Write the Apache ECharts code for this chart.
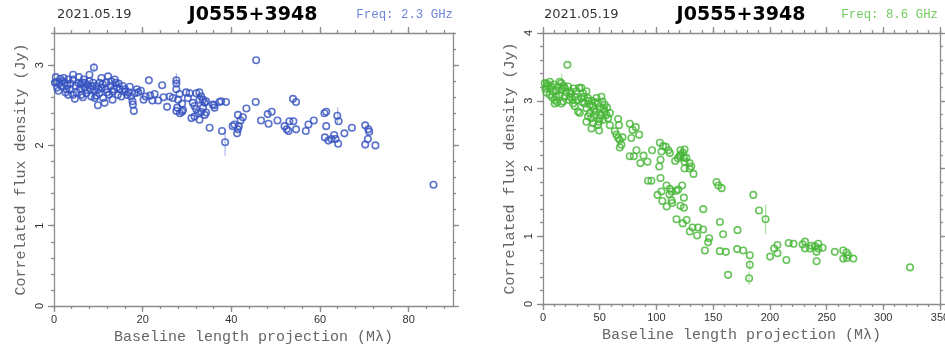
<!DOCTYPE html>
<html>
<head>
<meta charset="utf-8">
<script src="https://cdn.jsdelivr.net/npm/echarts@6/dist/echarts.min.js"></script>
<style>
  html, body { margin: 0; padding: 0; background: #fff; }
  #chart { width: 945px; height: 347px; }
</style>
</head>
<body>
<div id="chart"></div>
<script>
// Labels
const obsDate = '2021.05.19';
const sourceName = 'J0555+3948';
const band23Label = 'Freq: 2.3 GHz';
const band86Label = 'Freq: 8.6 GHz';
const xAxisTitle = 'Baseline length projection (M\u03bb)';
const yAxisTitle = 'Correlated flux density (Jy)';

// 2.3 GHz visibilities: [baseline projection (Mλ), correlated flux (Jy)]
const band23Points = [
  [0.4,2.85],[0.5,2.79],[0.7,2.72],[1.4,2.83],[1.7,2.74],[2.2,2.84],[2.4,2.78],[2.8,2.70],[3.2,2.63],[3.2,2.82],
  [3.7,2.77],[4.3,2.88],[4.3,2.82],[4.3,2.63],[4.7,2.58],[4.9,2.74],[5.4,2.78],[5.8,2.70],[6.2,2.63],[6.4,2.78],
  [6.7,2.82],[6.9,2.72],[7.3,2.65],[7.7,2.75],[8.0,2.88],[8.0,2.80],[8.2,2.70],[8.4,2.61],[8.8,2.78],[9.0,2.97],
  [9.2,2.68],[9.2,2.59],[9.6,2.74],[9.9,2.50],[10.2,2.65],[10.3,2.78],[10.7,2.84],[10.7,2.72],[11.1,2.59],[11.4,2.53],
  [11.7,2.70],[11.8,2.78],[12.2,2.86],[12.4,2.63],[12.7,2.74],[13.2,2.57],[13.3,2.67],[13.7,2.82],[13.9,2.78],[14.2,2.72],
  [14.4,2.63],[14.8,2.70],[15.2,2.61],[15.9,2.67],[16.5,2.63],[17.1,2.73],[17.4,2.61],[17.7,2.55],[17.8,2.51],[18.0,2.43],
  [18.2,2.65],[18.7,2.70],[0.2,2.78],[1.0,2.68],[1.9,2.80],[2.6,2.66],[3.5,2.70],[5.1,2.66],[5.6,2.85],[6.0,2.76],
  [7.0,2.78],[7.5,2.69],[8.6,2.74],[10.0,2.70],[11.0,2.76],[12.0,2.66],[12.9,2.80],[13.5,2.70],[14.6,2.77],[15.5,2.74],
  [16.0,2.70],[16.8,2.66],[9.5,2.62],[6.5,2.60],[3.0,2.75],[1.2,2.77],[19.0,2.66],[19.6,2.68],
  [20.2,2.57],[20.7,2.61],[21.4,2.81],[21.7,2.62],[22.2,2.56],[22.7,2.64],[23.5,2.56],[24.4,2.75],[24.7,2.60],[25.5,2.48],
  [26.1,2.61],[26.8,2.59],[27.6,2.81],[27.6,2.77],[27.6,2.70],[28.0,2.57],[27.8,2.47],[28.3,2.64],[28.9,2.52],[29.1,2.44],
  [27.6,2.43],[28.4,2.40],[28.9,2.42],[29.8,2.66],[30.2,2.59],
  [30.6,2.65],[32.1,2.65],[32.8,2.66],[33.2,2.61],[31.3,2.53],[31.7,2.49],[32.1,2.45],[32.5,2.40],[32.8,2.57],[33.6,2.57],
  [34.0,2.53],[34.3,2.55],[33.6,2.47],[33.2,2.42],[31.0,2.34],[31.7,2.36],[32.8,2.32],[34.0,2.38],[34.3,2.41],[36.2,2.47],
  [35.8,2.51],[37.3,2.54],[37.7,2.55],[38.8,2.54],[36.1,2.50],[35.1,2.22],[37.9,2.18],[38.6,2.04],
  [40.3,2.24],[40.7,2.26],[41.5,2.20],[41.7,2.24],[41.3,2.15],[41.5,2.38],[42.1,2.31],[42.6,2.35],[43.4,2.46],[45.6,3.06],
  [45.5,2.54],[46.7,2.31],[48.4,2.27],[48.2,2.39],[49.1,2.42],[50.4,2.31],[52.0,2.24],[52.5,2.20],[52.9,2.18],[53.1,2.30],
  [54.0,2.30],[54.6,2.20],[53.9,2.58],[54.6,2.54],[56.8,2.18],[57.4,2.26],[58.6,2.31],[61.0,2.40],[61.4,2.42],[61.4,2.24],
  [61.1,2.10],[61.9,2.06],[62.6,2.08],[63.2,2.13],[63.5,2.08],[64.1,2.02],[63.9,2.37],[64.2,2.30],[65.5,2.15],[67.2,2.22],
  [70.2,2.25],[70.9,2.20],[71.1,2.17],[70.8,2.08],[70.2,2.01],[72.5,2.00],[85.6,1.51]
];
// 2.3 GHz error bars: [baseline, low, high]
const band23Errors = [
  [9.0,2.91,3.03],[27.6,2.76,2.90],[38.6,1.87,2.17],[64.0,2.28,2.47]
];

// 8.6 GHz visibilities
const band86Points = [
  [1.5,3.26],[3.0,3.12],[4.0,3.22],[5.9,3.28],[7.4,3.21],[8.9,3.14],[5.9,3.09],[10.3,3.01],[11.8,3.06],[10.3,2.96],
  [13.2,3.21],[14.7,3.28],[16.2,3.26],[16.2,3.16],[14.7,3.09],[17.7,2.99],[16.2,2.96],[19.1,3.19],[19.1,3.06],[21.5,3.53],
  [22.1,3.21],[23.6,3.14],[23.0,3.01],[25.0,3.11],[26.5,2.96],[28.0,3.06],[29.4,3.14],[31.9,3.19],[33.8,3.19],[30.9,3.01],
  [33.8,3.04],[35.3,3.11],[38.3,3.14],[39.7,3.04],[36.8,2.96],[28.0,2.92],[30.9,2.84],[32.4,2.82],[38.3,2.89],[41.2,2.94],
  [44.1,2.92],[41.2,2.82],[39.7,2.77],[38.3,2.69],[42.7,2.74],[45.6,2.79],[47.1,3.04],[48.5,2.96],[50.0,2.89],[47.1,2.84],
  [51.5,3.06],[52.4,2.99],[54.4,2.94],[54.4,2.84],[51.5,2.79],[50.0,2.74],[49.5,2.69],[55.9,2.79],[57.4,2.74],[53.0,2.72],
  [44.1,2.67],[48.5,2.64],[58.9,2.64],[42.7,2.59],[49.5,2.56],[66.2,2.73],[67.0,2.64],[63.3,2.55],[64.7,2.50],[66.2,2.45],
  [70.1,2.46],[76.5,2.66],[78.9,2.57],[81.8,2.61],[84.8,2.50],[77.9,2.45],[69.1,2.35],[67.7,2.31],[67.7,2.42],
  [2.0,3.18],[3.5,3.25],[6.5,3.18],[9.5,3.24],[12.0,3.15],[18.0,3.22],[20.5,3.12],[24.0,3.06],[27.0,3.18],[34.5,2.98],
  [36.0,3.06],[43.0,3.00],[45.0,2.86],[46.0,2.98],[53.5,2.88],[56.5,2.90],[59.0,2.82],[40.0,3.00],[26.0,3.02],[12.5,2.98],
  [8.0,3.05],
  [76.5,2.18],[80.0,2.18],[82.4,2.27],[85.9,2.08],[88.6,2.19],[92.1,2.10],[96.2,2.27],[92.6,1.82],[95.6,1.82],[103.0,2.38],
  [104.5,2.25],[103.6,2.13],[105.9,2.33],[108.3,2.32],[110.5,2.27],[111.8,2.23],[102.5,2.03],[103.6,1.86],[108.9,1.75],[111.8,1.70],
  [113.3,1.66],[101.0,1.61],[105.2,1.52],[109.0,1.44],[113.3,1.53],[113.9,1.49],[111.5,1.62],[104.4,1.66],
  [116.5,2.11],[118.9,2.15],[120.4,2.18],[121.2,2.20],[123.3,2.23],[124.8,2.28],[121.2,2.27],[124.2,2.16],[126.3,2.16],[124.8,2.10],
  [129.2,2.08],[130.7,2.03],[124.8,2.00],[129.2,2.00],[132.7,1.92],
  [117.4,1.67],[119.2,1.69],[122.7,1.75],[124.2,1.57],[121.2,1.45],[124.2,1.42],
  [141.3,1.40],[153.0,1.80],[154.6,1.75],[157.5,1.71],[156.0,1.21],[185.4,1.61],[190.5,1.38],[196.2,1.25],
  [117.7,1.25],[123.2,1.19],[126.6,1.24],[129.4,1.07],[131.8,1.13],[135.9,1.01],[136.8,1.13],[141.2,1.10],[142.7,0.79],[145.6,0.91],
  [146.5,0.97],[158.8,1.03],[155.9,0.78],[161.2,0.77],[163.2,0.43],[171.2,0.81],[176.5,0.79],[171.5,1.09],[182.3,0.72],[182.3,0.58],
  [181.7,0.38],[200.2,0.70],[203.8,0.82],[206.7,0.87],[206.7,0.75],[214.6,0.65],[216.6,0.90],[220.9,0.89],[228.9,0.88],[231.0,0.92],
  [231.0,0.82],[235.4,0.82],[236.8,0.86],[239.8,0.85],[241.2,0.77],[242.7,0.82],[241.2,0.63],[242.7,0.89],[246.5,0.83],[257.2,0.77],
  [264.7,0.79],[264.7,0.67],[267.6,0.76],[269.1,0.72],[268.0,0.68],[273.6,0.67],[323.6,0.54]
];
const band86Errors = [
  [16.5,3.20,3.40],[196.2,1.03,1.47],[181.7,0.28,0.48],[182.3,0.50,0.66]
];

// Axis ranges and tick values
const band23XMax = 90, band23YMax = 3.4;
const band86XMax = 350, band86YMax = 4;
const band23XMajor = [0, 20, 40, 60, 80];
const band23YMajor = [0, 1, 2, 3];
const band86XMajor = [0, 50, 100, 150, 200, 250, 300, 350];
const band86YMajor = [0, 1, 2, 3, 4];

function tickSteps(max, step) {
  const out = [];
  for (let i = 0; i * step <= max + 1e-9; i++) out.push(Math.round(i * step * 100) / 100);
  return out;
}
const band23XMinor = tickSteps(band23XMax, 4);
const band23YMinor = tickSteps(band23YMax, 0.2);
const band86XMinor = tickSteps(band86XMax, 10);
const band86YMinor = tickSteps(band86YMax, 0.2);

const BLUE = '#3350bf';
const BLUE_LIGHT = '#6f86dc';
const GREEN = '#45b534';
const GREEN_LIGHT = '#72cc5f';
const FRAME = '#8c8c8c';

const lineStyle = { color: FRAME, width: 1.3 };
const tickLabel = { color: '#333', fontFamily: 'Liberation Sans', fontSize: 11 };
const titleFont = { fontFamily: 'Liberation Mono', fontSize: 15, color: '#666' };

// One side of the box frame: a main axis (line, long ticks, labels) and a
// companion axis carrying the short minor ticks.
function sideAxes(gridIndex, pos, max, majors, minors, withLabels, name) {
  const isY = pos === 'left' || pos === 'right';
  const main = {
    type: 'value', gridIndex, position: pos, min: 0, max,
    axisLine: { show: true, onZero: false, lineStyle },
    axisTick: { show: true, customValues: majors, length: 6, lineStyle },
    axisLabel: withLabels
      ? Object.assign({ show: true, customValues: majors, margin: isY ? 9 : 8, rotate: isY ? 90 : 0 }, tickLabel)
      : { show: false },
    splitLine: { show: false }
  };
  if (name) {
    main.name = name;
    main.nameLocation = 'middle';
    main.nameGap = isY ? 25 : 24;
    main.nameTextStyle = titleFont;
  }
  const minor = {
    type: 'value', gridIndex, position: pos, min: 0, max,
    axisLine: { show: false, onZero: false },
    axisTick: { show: true, customValues: minors, length: 3, lineStyle },
    axisLabel: { show: false },
    splitLine: { show: false }
  };
  return [main, minor];
}

const xAxes = [
  ...sideAxes(0, 'bottom', band23XMax, band23XMajor, band23XMinor, true, xAxisTitle),
  ...sideAxes(0, 'top', band23XMax, band23XMajor, band23XMinor, false),
  ...sideAxes(1, 'bottom', band86XMax, band86XMajor, band86XMinor, true, xAxisTitle),
  ...sideAxes(1, 'top', band86XMax, band86XMajor, band86XMinor, false)
];
const yAxes = [
  ...sideAxes(0, 'left', band23YMax, band23YMajor, band23YMinor, true, yAxisTitle),
  ...sideAxes(0, 'right', band23YMax, band23YMajor, band23YMinor, false),
  ...sideAxes(1, 'left', band86YMax, band86YMajor, band86YMinor, true, yAxisTitle),
  ...sideAxes(1, 'right', band86YMax, band86YMajor, band86YMinor, false)
];

function errorBars(data, axisIndex, color) {
  return {
    type: 'custom', coordinateSystem: 'cartesian2d',
    xAxisIndex: axisIndex, yAxisIndex: axisIndex, data, silent: true, z: 1,
    renderItem(params, api) {
      const x = api.value(0);
      const p1 = api.coord([x, api.value(1)]);
      const p2 = api.coord([x, api.value(2)]);
      return { type: 'line', shape: { x1: p1[0], y1: p1[1], x2: p2[0], y2: p2[1] },
               style: { stroke: color, lineWidth: 1.2, opacity: 0.6 } };
    }
  };
}

function points(data, axisIndex, color) {
  return {
    type: 'scatter', xAxisIndex: axisIndex, yAxisIndex: axisIndex, data, z: 2,
    symbol: 'circle', symbolSize: 6.5, silent: true,
    itemStyle: { color: 'rgba(255,255,255,0)', borderColor: color, borderWidth: 1.6 }
  };
}

function headerText(x, text, font, fill, align) {
  return { type: 'text', x, y: 15, silent: true,
           style: { text, font, fill, align, verticalAlign: 'middle',
                    textAlign: align, textVerticalAlign: 'middle' } };
}

const chart = echarts.init(document.getElementById('chart'), null, { renderer: 'canvas' });
chart.setOption({
  animation: false,
  backgroundColor: '#fff',
  grid: [
    { left: 54, top: 33, width: 399, height: 273, outerBoundsMode: 'none', containLabel: false },
    { left: 543, top: 33, width: 397, height: 271, outerBoundsMode: 'none', containLabel: false }
  ],
  xAxis: xAxes,
  yAxis: yAxes,
  graphic: [
    headerText(57, obsDate, '13px DejaVu Sans', '#333', 'left'),
    headerText(253, sourceName, 'bold 19px DejaVu Sans', '#000', 'center'),
    headerText(453, band23Label, '12.4px Liberation Mono', BLUE_LIGHT, 'right'),
    headerText(544, obsDate, '13px DejaVu Sans', '#333', 'left'),
    headerText(741, sourceName, 'bold 19px DejaVu Sans', '#000', 'center'),
    headerText(938, band86Label, '12.4px Liberation Mono', GREEN_LIGHT, 'right')
  ],
  series: [
    errorBars(band23Errors, 0, BLUE_LIGHT),
    points(band23Points, 0, BLUE),
    errorBars(band86Errors, 4, GREEN_LIGHT),
    points(band86Points, 4, GREEN)
  ]
});
</script>
</body>
</html>
